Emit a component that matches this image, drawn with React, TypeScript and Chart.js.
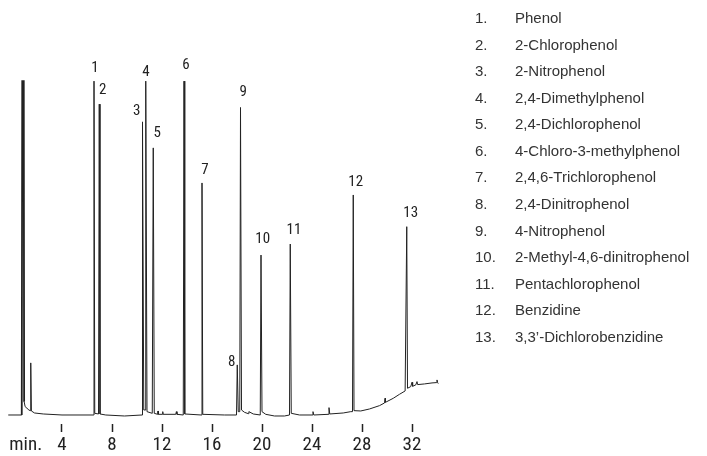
import React, { useEffect, useRef } from 'react';
import { Chart, registerables } from 'chart.js';

Chart.register(...registerables);

// Chromatogram trace: retention time (min) and detector signal (% of full scale)
const traceTime = [
  -0.3, 0.78, 0.82, 0.94, 0.97, 1.05, 1.35, 1.45, 1.5, 1.55, 1.8, 2.5, 4.0,
  6.5, 6.56, 6.62, 6.92, 6.98, 7.04, 7.5, 9.0,
  10.4, 10.44, 10.54, 10.64, 10.7, 10.8, 11.22, 11.3, 11.38,
  11.65, 11.68, 11.71, 12.03, 12.06, 12.09, 13.1, 13.15, 13.2,
  13.7, 13.76, 13.82, 15.14, 15.2, 15.26, 17.0,
  17.96, 18.02, 18.1, 18.22, 18.28, 18.36, 18.6, 18.9, 18.95, 19.3,
  19.86, 19.92, 20.0, 20.3, 21.0, 21.8, 22.2, 22.26, 22.34, 23.0,
  24.02, 24.08, 24.14, 25.3, 25.36, 25.42, 26.5, 27.1,
  27.24, 27.3, 27.36, 27.9, 28.6, 29.4, 29.8, 29.84, 29.88, 30.5, 31.0, 31.45,
  31.52, 31.58, 31.64, 31.9, 32.0, 32.05, 32.3, 32.4, 32.45, 33.0, 33.6, 33.95, 34.0, 34.05, 34.1,
];
const traceSignal = [
  0, 0, 100, 100, 4, 2.5, 1.5, 1.3, 15.6, 1.2, 0.6, 0.3, 0,
  0, 100, 0.5, 0.3, 93.1, 0.3, 0, -0.3,
  0, 87.8, 1.5, 1.5, 100, 1, 0.5, 80, 0.5,
  0.2, 1.2, 0.2, 0.2, 1.0, 0.2, 0.2, 1.0, 0.2,
  0, 100, 0.3, 0, 69.5, 0.2, 0,
  0, 15, 1, 1, 92.1, 1.5, 0.8, 0.4, 1.0, 0.3,
  0, 47.9, 1.0, 0.2, -0.3, -0.3, 0, 51.2, 0.5, 0,
  0, 1.0, 0, 0.2, 2.2, 0.3, 0.6, 1.0,
  1.0, 65.9, 1.3, 1.2, 1.8, 2.8, 3.6, 5.0, 3.8, 5.0, 6.2, 7.2,
  7.2, 56.4, 8.0, 8.5, 9.8, 8.6, 9.0, 10.0, 9.1, 9.3, 9.6, 9.7, 10.5, 9.7, 9.4,
];

// Peak number annotations (anchor in time / signal units)
const peakNumbers = ['1', '2', '3', '4', '5', '6', '7', '8', '9', '10', '11', '12', '13'];
const labelTime = [6.64, 7.26, 9.98, 10.72, 11.62, 13.92, 15.44, 17.58, 18.5, 20.06, 22.56, 27.5, 31.9];
const labelSignal = [104.0, 97.3, 91.0, 102.8, 84.3, 104.8, 73.4, 15.9, 96.8, 52.6, 55.4, 69.7, 60.4];

const compounds = [
  'Phenol',
  '2-Chlorophenol',
  '2-Nitrophenol',
  '2,4-Dimethylphenol',
  '2,4-Dichlorophenol',
  '4-Chloro-3-methylphenol',
  '2,4,6-Trichlorophenol',
  '2,4-Dinitrophenol',
  '4-Nitrophenol',
  '2-Methyl-4,6-dinitrophenol',
  'Pentachlorophenol',
  'Benzidine',
  '3,3\u2019-Dichlorobenzidine',
];

const tickMinutes = [4, 8, 12, 16, 20, 24, 28, 32];
const unitLabel = 'min.';
const unitLabelAt = 1.1;

const NARROW = "'Liberation Sans Narrow', 'Roboto Condensed', 'Liberation Sans', sans-serif";
const INK = '#222';

const peakLabelPlugin = {
  id: 'peakLabels',
  afterDatasetsDraw(chart: any) {
    const { ctx, scales } = chart;
    ctx.save();
    ctx.fillStyle = INK;
    ctx.font = `15px ${NARROW}`;
    ctx.textAlign = 'center';
    ctx.textBaseline = 'middle';
    peakNumbers.forEach((n, i) => {
      ctx.fillText(n, scales.x.getPixelForValue(labelTime[i]), scales.y.getPixelForValue(labelSignal[i]));
    });
    ctx.restore();
  },
};

export default function App() {
  const ref = useRef<HTMLCanvasElement>(null);

  useEffect(() => {
    if (!ref.current) return;
    const chart = new Chart(ref.current, {
      type: 'line',
      data: {
        datasets: [
          {
            data: traceTime.map((t, i) => ({ x: t, y: traceSignal[i] })),
            borderColor: INK,
            borderWidth: 1,
            pointRadius: 0,
            tension: 0,
            fill: false,
            segment: {
              borderWidth: (c: any) =>
                traceTime[c.p0DataIndex] >= 0.78 && traceTime[c.p1DataIndex] <= 0.97 ? 1.8 : 1,
            },
          },
        ],
      },
      options: {
        animation: false,
        responsive: false,
        maintainAspectRatio: false,
        layout: { padding: { left: 4, right: 263, top: 10, bottom: 0 } },
        plugins: { legend: { display: false }, tooltip: { enabled: false } },
        scales: {
          x: {
            type: 'linear',
            min: -0.64,
            max: 34.56,
            border: { display: false },
            grid: {
              drawOnChartArea: false,
              drawTicks: true,
              tickLength: 8,
              tickWidth: 1.5,
              tickColor: (c: any) => (c.tick && c.tick.value === unitLabelAt ? 'rgba(0,0,0,0)' : INK),
            },
            afterBuildTicks: (s: any) => {
              s.ticks = [{ value: unitLabelAt }, ...tickMinutes.map((v) => ({ value: v }))];
            },
            afterFit: (s: any) => {
              s.height = 32;
            },
            ticks: {
              autoSkip: false,
              maxRotation: 0,
              padding: 2,
              color: INK,
              font: { family: NARROW, size: 19 },
              callback: (v: any) => (v === unitLabelAt ? unitLabel : String(v)),
            },
          },
          y: { type: 'linear', display: false, min: -2.7, max: 121.3 },
        },
      },
      plugins: [peakLabelPlugin],
    });
    return () => chart.destroy();
  }, []);

  return (
    <div style={{ position: 'fixed', left: 0, top: 0, width: 707, height: 456, background: '#fff', overflow: 'hidden' }}>
      <canvas ref={ref} width={707} height={456} style={{ width: 707, height: 456, display: 'block' }} />
      {compounds.map((name, i) => (
        <div
          key={name}
          style={{
            position: 'absolute',
            top: 18 + i * 26.58 - 10,
            left: 0,
            height: 20,
            lineHeight: '20px',
            fontFamily: "'Liberation Sans', Arial, sans-serif",
            fontSize: 15,
            color: '#333',
            whiteSpace: 'nowrap',
          }}
        >
          <span style={{ position: 'absolute', left: 475 }}>{`${i + 1}.`}</span>
          <span style={{ position: 'absolute', left: 515 }}>{name}</span>
        </div>
      ))}
    </div>
  );
}
